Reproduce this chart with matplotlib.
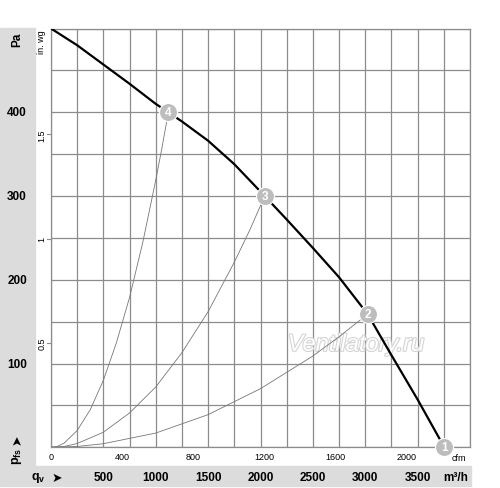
import matplotlib.pyplot as plt
import matplotlib.patheffects as pe
import numpy as np
from matplotlib.patches import Rectangle

plt.rcParams['font.family'] = ['Liberation Sans', 'DejaVu Sans']
plt.rcParams['mathtext.fontset'] = 'custom'
plt.rcParams['mathtext.bf'] = 'Liberation Sans:bold'
plt.rcParams['mathtext.rm'] = 'Liberation Sans'

# fan curve (m³/h, Pa)
fan_flow = [0, 250, 500, 750, 1000, 1120, 1250, 1500, 1750, 2040,
            2250, 2500, 2750, 3023, 3250, 3500, 3755]
fan_pa = [500, 480, 457, 434, 410, 400, 389, 366, 338, 300,
          272, 238, 203, 159, 110, 57, 0]

# system curves through the operating points
sys4_flow = [0, 60, 125, 250, 375, 500, 625, 750, 875, 1000, 1060, 1120]
sys4_pa = [0, 1, 5, 20, 45, 80, 125, 179, 244, 319, 358, 400]
sys3_flow = [0, 125, 250, 500, 750, 1000, 1250, 1500, 1750, 1900, 2040]
sys3_pa = [0, 1, 4.5, 18, 41, 72, 113, 162, 221, 260, 300]
sys2_flow = [0, 250, 500, 1000, 1500, 2000, 2500, 2750, 3023]
sys2_pa = [0, 1, 4.3, 17, 39, 70, 109, 132, 159]

# operating points
pt_flow = [3755, 3023, 2040, 1120]
pt_pa = [0, 159, 300, 400]
pt_labels = ['1', '2', '3', '4']

# axis labels
pa_ticks = [100, 200, 300, 400]
inwg_ticks = [0.5, 1, 1.5]
cfm_ticks = [0, 400, 800, 1200, 1600, 2000]
m3h_ticks = [500, 1000, 1500, 2000, 2500, 3000, 3500]

W, H = 500, 489
fig = plt.figure(figsize=(W / 100, H / 100), dpi=100)
band = '#dcdcdc'
grid_c = '#8c8c8c'

# grey bands on the left and bottom
fig.patches.append(Rectangle((0, 1 - 467 / H), 35 / W, (467 - 29) / H,
                             transform=fig.transFigure, color=band, zorder=-1))
fig.patches.append(Rectangle((0, 1 - 487 / H), 471 / W, 20 / H,
                             transform=fig.transFigure, color=band, zorder=-1))

ax_top, ax_bot = 29.5, 448.3
ax_h = ax_bot - ax_top
ax = fig.add_axes([51 / W, 1 - ax_bot / H, 419 / W, ax_h / H])
ax.set_xlim(0, 4000)
ax.set_ylim(0, 500)
ax.set_xticks(np.arange(0, 4001, 250))
ax.set_yticks(np.arange(0, 501, 50))
ax.grid(True, color=grid_c, lw=0.9)
ax.set_axisbelow(True)
ax.tick_params(length=0, labelbottom=False, labelleft=False)
for s in ax.spines.values():
    s.set_color(grid_c)
    s.set_linewidth(0.9)

# watermark
ax.text(2912, 123, 'Ventilatory.ru', style='italic', fontsize=17,
        color='white', ha='center', va='center', zorder=2,
        path_effects=[pe.withStroke(linewidth=1.6, foreground='#d4d4d4')])

# curves
for fx, fy in [(sys4_flow, sys4_pa), (sys3_flow, sys3_pa), (sys2_flow, sys2_pa)]:
    ax.plot(fx, fy, color='#777777', lw=0.6, zorder=3)
ax.plot(fan_flow, fan_pa, color='black', lw=1.6, zorder=4)

ax.plot(pt_flow, pt_pa, 'o', ms=13, mfc='#bdbdbd', mec='white', mew=0.8,
        clip_on=False, zorder=5)
for fx, fy, lab in zip(pt_flow, pt_pa, pt_labels):
    ax.text(fx, fy, lab, color='white', fontsize=8.5, fontweight='bold',
            ha='center', va='center', zorder=6, clip_on=False)

ytr = ax.get_yaxis_transform()
xtr = ax.get_xaxis_transform()

# Pa labels in the grey band
for p in pa_ticks:
    ax.text(-34 / 419, p, str(p), transform=ytr, ha='center', va='center',
            fontsize=8.5, fontweight='bold', clip_on=False)
fig.text(17 / W, 1 - 40 / H, 'Pa', rotation=90, ha='center', va='center',
         fontsize=8.5, fontweight='bold')

# in. wg scale
for v in inwg_ticks:
    y = v * 249.09
    ax.plot([-4 / 419, 0], [y, y], transform=ytr, color=grid_c, lw=0.8,
            clip_on=False)
    ax.text(-9 / 419, y, f'{v:g}', transform=ytr, rotation=90, ha='center',
            va='center', fontsize=6.5, clip_on=False)
fig.text(42 / W, 1 - 30 / H, 'in. wg', rotation=90, ha='center', va='top',
         fontsize=6.5)

# cfm scale
for c in cfm_ticks:
    ax.text(c * 1.699, -9.5 / ax_h, str(c), transform=xtr, ha='center',
            va='center', fontsize=6.5, clip_on=False)
fig.text(459 / W, 1 - 459 / H, 'cfm', ha='center', va='center', fontsize=6.5)

# m³/h scale
for m in m3h_ticks:
    ax.text(m, -29.5 / ax_h, str(m), transform=xtr, ha='center', va='center',
            fontsize=8.5, fontweight='bold', clip_on=False)
fig.text(456 / W, 1 - 478 / H, 'm³/h', ha='center', va='center',
         fontsize=8.5, fontweight='bold')

# axis names with arrows
fig.text(38 / W, 1 - 478 / H, r'$\mathbf{q}_\mathbf{v}$', ha='center',
         va='center', fontsize=9)
fig.text(57 / W, 1 - 478 / H, '➤', ha='center', va='center', fontsize=9,
         family=['DejaVu Sans'])
fig.text(17 / W, 1 - 456 / H, r'$\mathbf{p}_\mathbf{fs}$', rotation=90,
         ha='center', va='center', fontsize=9)
fig.text(17 / W, 1 - 440 / H, '➤', rotation=90, ha='center', va='center',
         fontsize=9, family=['DejaVu Sans'])

fig.savefig('out.png', dpi=100)
